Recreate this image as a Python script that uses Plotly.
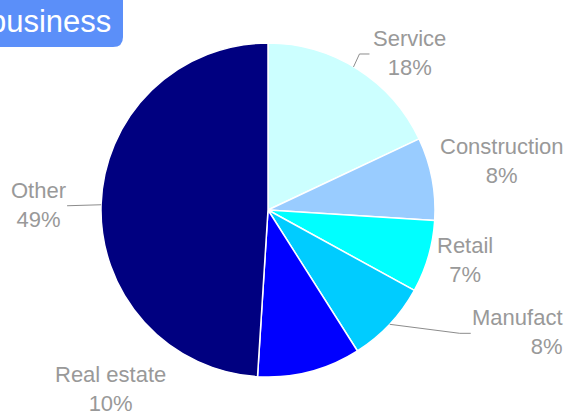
import math
import plotly.graph_objects as go

# Business mix by sector
categories = ["Service", "Construction", "Retail", "Manufact", "Real estate", "Other"]
values = [18, 8, 7, 8, 10, 49]
colors = ["#ccffff", "#99ccff", "#00ffff", "#00ccff", "#0000ff", "#000080"]
title_text = "business"

W, H = 568, 412
CX, CY, R = 268, 210, 167  # pie centre and radius in page pixels

# label placement relative to the slice's outer midpoint (pixels),
# optional leader line (start shift, elbow, end), and text alignment
label_layout = {
    "Service":      dict(dx=52,  dy=-16, start=(-4, -2), elbow=(2, -15), end=(12, -15), align="center", xanchor="center"),
    "Construction": dict(dx=70,  dy=-18, start=None, elbow=None, end=None, align="center", xanchor="center"),
    "Retail":       dict(dx=37,  dy=3,   start=None, elbow=None, end=None, align="center", xanchor="center"),
    "Manufact":     dict(dx=175, dy=8,   start=(0, 0), elbow=(70, 9), end=(81, 9), align="right", xanchor="right"),
    "Real estate":  dict(dx=-199, dy=17, start=None, elbow=None, end=None, align="center", xanchor="center"),
    "Other":        dict(dx=-63, dy=0,   start=(0, 0), elbow=(-34, 1), end=(-34, 1), align="center", xanchor="center"),
}

font_family = "Liberation Sans, Arial, sans-serif"
label_color = "#999999"


def px_to_paper(x, y):
    return x / W, 1 - y / H


fig = go.Figure(
    go.Pie(
        labels=categories,
        values=values,
        sort=False,
        direction="clockwise",
        rotation=0,
        marker=dict(colors=colors, line=dict(color="white", width=1.5)),
        textinfo="none",
        hoverinfo="label+percent",
        showlegend=False,
        domain=dict(x=[(CX - R) / W, (CX + R) / W],
                    y=[1 - (CY + R) / H, 1 - (CY - R) / H]),
    )
)

total = sum(values)
annotations = []
shapes = []
start = 0.0
for name, v in zip(categories, values):
    frac = v / total
    mid = (start + frac / 2) * 2 * math.pi
    start += frac
    ex = CX + R * math.sin(mid)
    ey = CY - R * math.cos(mid)
    cfg = label_layout[name]
    pct = round(frac * 100)
    tx, ty = ex + cfg["dx"], ey + cfg["dy"]
    ax, ay = px_to_paper(tx, ty)
    annotations.append(dict(
        x=ax, y=ay, xref="paper", yref="paper",
        text=f"{name}<br>{pct}%", showarrow=False,
        xanchor=cfg["xanchor"], yanchor="middle", align=cfg["align"],
        font=dict(family=font_family, size=22, color=label_color),
    ))
    if cfg["elbow"] is not None:
        sx, sy = ex + cfg["start"][0], ey + cfg["start"][1]
        bx, by = ex + cfg["elbow"][0], ey + cfg["elbow"][1]
        fx, fy = ex + cfg["end"][0], ey + cfg["end"][1]
        p0 = px_to_paper(sx, sy)
        p1 = px_to_paper(bx, by)
        p2 = px_to_paper(fx, fy)
        shapes.append(dict(
            type="path", xref="paper", yref="paper",
            path=f"M {p0[0]},{p0[1]} L {p1[0]},{p1[1]} L {p2[0]},{p2[1]}",
            line=dict(color="#8c8c8c", width=1),
        ))

# title badge with rounded lower-right corner
shapes.append(dict(
    type="path", xref="paper", yref="paper",
    xsizemode="pixel", ysizemode="pixel", xanchor=0, yanchor=1,
    path="M -10 10 L 123 10 L 123 -37 Q 123 -47 113 -47 L -10 -47 Z",
    fillcolor="#5b8ff9", line=dict(width=0), layer="above",
))
annotations.append(dict(
    x=113 / W, y=1 - 22 / H, xref="paper", yref="paper",
    text=title_text, showarrow=False, xanchor="right", yanchor="middle",
    font=dict(family=font_family, size=31, color="white"),
))

fig.update_layout(
    width=W, height=H,
    margin=dict(l=0, r=0, t=0, b=0),
    paper_bgcolor="white", plot_bgcolor="white",
    annotations=annotations, shapes=shapes,
)

fig.write_html("out.html")
